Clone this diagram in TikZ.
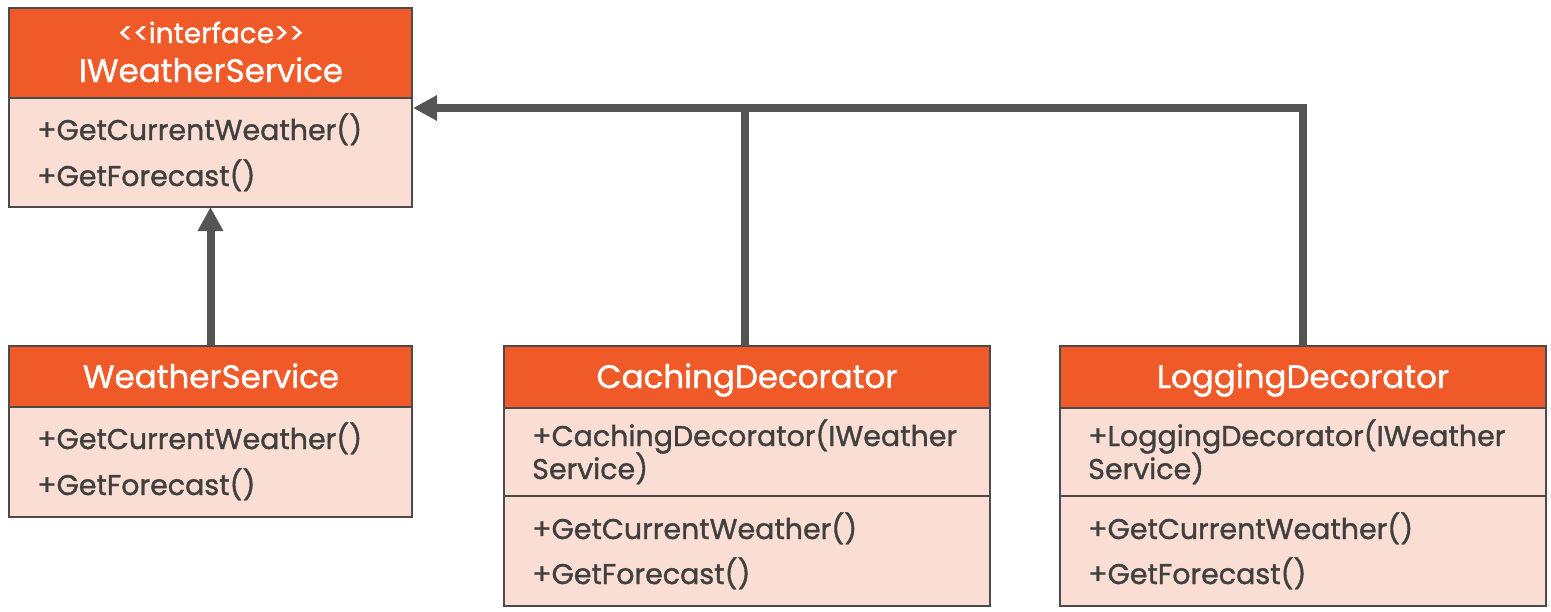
\documentclass[tikz,border=0pt]{standalone}
\usepackage{fontspec}
\setmainfont{Poppins}[FakeBold=1.2]
\usetikzlibrary{arrows.meta}
\definecolor{orng}{RGB}{240,90,41}
\definecolor{pnk}{RGB}{250,222,212}
\definecolor{bord}{RGB}{75,75,75}
\definecolor{txt}{RGB}{64,64,64}
\definecolor{arrc}{RGB}{85,85,85}
\tikzset{
  part/.style={draw=bord, line width=2.5pt, anchor=north west, inner sep=0pt, outer sep=0pt},
  hdr/.style={part, fill=orng},
  bdy/.style={part, fill=pnk},
  htxt/.style={text=white, anchor=base, inner sep=0pt, font=\fontsize{32.5}{36}\selectfont},
  stxt/.style={text=white, anchor=base, inner sep=0pt, font=\fontsize{28}{32}\selectfont},
  mtxt/.style={text=txt, anchor=base west, inner sep=0pt, font=\fontsize{28.5}{32}\selectfont},
  arr/.style={draw=arrc, line width=8pt, -{Triangle[length=24pt,width=24pt]}},
  lin/.style={draw=arrc, line width=8pt},
}
\begin{document}
\begin{tikzpicture}[x=1pt,y=-1pt]
\useasboundingbox (0,0) rectangle (1551,611);
% IWeatherService
\node[hdr, minimum width=403pt, minimum height=90pt] (ih) at (9,8) {};
\node[bdy, minimum width=403pt, minimum height=109pt] (ib) at (9,98) {};
\node[stxt] (ist) at (211,43) {{<}{<}interface{>}{>}};
\node[htxt] (iname) at (211,82) {IWeatherService};
\node[mtxt] (im1) at (37,140) {+GetCurrentWeather()};
\node[mtxt] (im2) at (37,186) {+GetForecast()};
% WeatherService
\node[hdr, minimum width=403pt, minimum height=61pt] (wh) at (9,346) {};
\node[bdy, minimum width=403pt, minimum height=110pt] (wb) at (9,407) {};
\node[htxt] (wname) at (211,388) {WeatherService};
\node[mtxt] (wm1) at (37,449) {+GetCurrentWeather()};
\node[mtxt] (wm2) at (37,495) {+GetForecast()};
% CachingDecorator
\node[hdr, minimum width=486pt, minimum height=62pt] (ch) at (504,346) {};
\node[bdy, minimum width=486pt, minimum height=88pt] (cb1) at (504,408) {};
\node[bdy, minimum width=486pt, minimum height=110pt] (cb2) at (504,496) {};
\node[htxt] (cname) at (747,388) {CachingDecorator};
\node[mtxt] (cc1) at (532,446) {+CachingDecorator(IWeather};
\node[mtxt] (cc2) at (532,479) {Service)};
\node[mtxt] (cm1) at (532,539) {+GetCurrentWeather()};
\node[mtxt] (cm2) at (532,584) {+GetForecast()};
% LoggingDecorator
\node[hdr, minimum width=486pt, minimum height=62pt] (lh) at (1060,346) {};
\node[bdy, minimum width=486pt, minimum height=88pt] (lb1) at (1060,408) {};
\node[bdy, minimum width=486pt, minimum height=110pt] (lb2) at (1060,496) {};
\node[htxt] (lname) at (1303,388) {LoggingDecorator};
\node[mtxt] (lc1) at (1088,446) {+LoggingDecorator(IWeather};
\node[mtxt] (lc2) at (1088,479) {Service)};
\node[mtxt] (lm1) at (1088,539) {+GetCurrentWeather()};
\node[mtxt] (lm2) at (1088,584) {+GetForecast()};
% connectors
\coordinate (tip) at (413,108);
\coordinate (cj) at (745,108);
\coordinate (lj) at (1303,108);
\coordinate (ctop) at (745,346);
\coordinate (ltop) at (1303,346);
\draw[arr] (wh.north) -- (ib.south);
\draw[lin] (ctop) -- (cj);
\draw[arr, line join=miter] (ltop) -- (lj) -- (tip);
\end{tikzpicture}
\end{document}
